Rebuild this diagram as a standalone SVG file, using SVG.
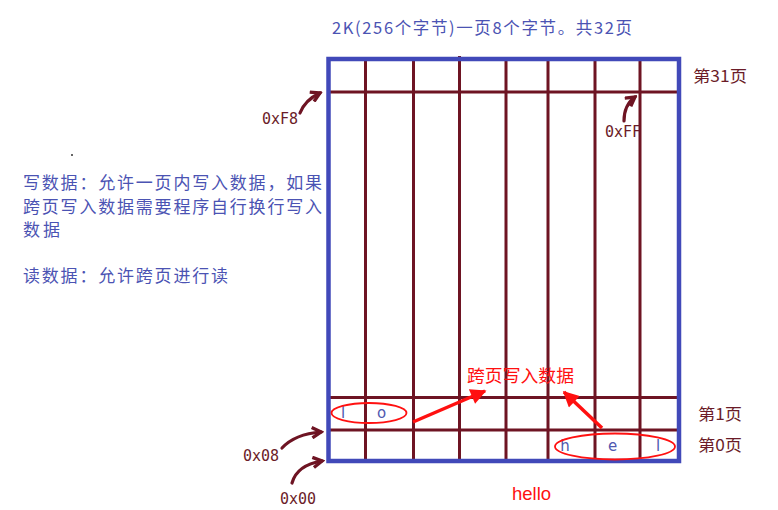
<svg xmlns="http://www.w3.org/2000/svg" width="778" height="510" viewBox="0 0 778 510">
<style>
.cjk{font-family:"Noto Sans CJK SC","Noto Sans",sans-serif}
.blue{fill:#4b53b3}
.dred{fill:#6b1c28}
.mono{font-family:"DejaVu Sans Mono","Liberation Mono",monospace;font-size:15px;fill:#6b1c28}
.grid{stroke:#6e1423;stroke-width:3;fill:none}
.frame{stroke:#4149b9;stroke-width:4.5;fill:none}
.curl{stroke:#6e1423;stroke-width:3.2;fill:none;stroke-linecap:round}
.redarrow{stroke:#ff1010;stroke-width:3.5;fill:none}
.cell{font-family:"DejaVu Sans","Noto Sans",sans-serif;font-size:15px;fill:#5058b0}
</style>
<defs>
<marker id="curlhead" viewBox="0 0 10 10" refX="8" refY="5" markerWidth="4" markerHeight="4" orient="auto" markerUnits="strokeWidth">
<path d="M1,1 L8,5 L1,9" fill="none" stroke="#6e1423" stroke-width="2.6"/>
</marker>
<marker id="redhead" viewBox="0 0 10 10" refX="9" refY="5" markerWidth="5" markerHeight="4.5" orient="auto" markerUnits="strokeWidth">
<path d="M0,0 L10,5 L0,10 Z" fill="#ff1010"/>
</marker>
</defs>

<g id="title">
<text class="cjk blue" x="332" y="34" font-size="16.5" textLength="300" lengthAdjust="spacing">2K(256个字节)一页8个字节。共32页</text>
</g>

<g id="notes">
<circle cx="72" cy="155" r="1" fill="#333"/>
<text class="cjk blue" x="23" y="189" font-size="17" textLength="299" lengthAdjust="spacing">写数据：允许一页内写入数据，如果</text>
<text class="cjk blue" x="23" y="213" font-size="17" textLength="299" lengthAdjust="spacing">跨页写入数据需要程序自行换行写入</text>
<text class="cjk blue" x="23" y="236" font-size="17" textLength="37" lengthAdjust="spacing">数据</text>
<text class="cjk blue" x="23" y="282" font-size="17" textLength="205" lengthAdjust="spacing">读数据：允许跨页进行读</text>
</g>

<g id="memory-grid">
<line class="grid" x1="365.5" y1="59" x2="365.5" y2="461"/>
<line class="grid" x1="413.5" y1="59" x2="413.5" y2="461"/>
<line class="grid" x1="459.5" y1="56" x2="459.5" y2="461"/>
<line class="grid" x1="506" y1="59" x2="506" y2="461"/>
<line class="grid" x1="548" y1="59" x2="548" y2="463"/>
<line class="grid" x1="595" y1="59" x2="595" y2="461"/>
<line class="grid" x1="640" y1="59" x2="640" y2="461"/>
<line class="grid" x1="328" y1="92" x2="681" y2="92"/>
<line class="grid" x1="328" y1="397.5" x2="681" y2="397.5"/>
<line class="grid" x1="328" y1="430" x2="681" y2="430"/>
<rect class="frame" x="328.5" y="59" width="350.5" height="402"/>
</g>

<g id="page-labels">
<text class="cjk dred" x="693" y="82" font-size="16" textLength="54" lengthAdjust="spacingAndGlyphs">第31页</text>
<text class="cjk dred" x="698" y="420" font-size="16" textLength="44" lengthAdjust="spacingAndGlyphs">第1页</text>
<text class="cjk dred" x="698" y="451" font-size="16" textLength="44" lengthAdjust="spacingAndGlyphs">第0页</text>
</g>

<g id="addresses">
<text class="mono" x="262" y="124">0xF8</text>
<text class="mono" x="605" y="137">0xFF</text>
<text class="mono" x="243" y="461">0x08</text>
<text class="mono" x="280" y="504">0x00</text>
</g>

<g id="cells">
<text class="cell" x="343" y="418" text-anchor="middle">l</text>
<text class="cell" x="381.5" y="418" text-anchor="middle">o</text>
<text class="cell" x="565" y="451" text-anchor="middle">h</text>
<text class="cell" x="612.5" y="451" text-anchor="middle">e</text>
<text class="cell" x="658" y="451" text-anchor="middle">l</text>
<ellipse cx="369" cy="413" rx="37.5" ry="10" fill="none" stroke="#ff1010" stroke-width="1.8"/>
<ellipse cx="615" cy="446.5" rx="60" ry="13" fill="none" stroke="#ff1010" stroke-width="1.8"/>
</g>

<g id="cross-page-label">
<text class="cjk" x="467" y="381.5" font-size="17.5" fill="#ff1010" textLength="107" lengthAdjust="spacingAndGlyphs">跨页写入数据</text>
<text x="512" y="500" font-family="Liberation Sans, Arial, sans-serif" font-size="18.5" fill="#ff1010">hello</text>
</g>

<g id="connectors">
<path class="curl" d="M300,113 Q305,100 320,93" marker-end="url(#curlhead)"/>
<path class="curl" d="M624,121 Q624,105 635,97" marker-end="url(#curlhead)"/>
<path class="curl" d="M282,448 Q295,434 321,432" marker-end="url(#curlhead)"/>
<path class="curl" d="M292,483 Q297,465 322,461" marker-end="url(#curlhead)"/>
<line class="redarrow" x1="413" y1="422" x2="485" y2="391" marker-end="url(#redhead)"/>
<line class="redarrow" x1="602" y1="428" x2="564" y2="392" marker-end="url(#redhead)"/>
</g>
</svg>
